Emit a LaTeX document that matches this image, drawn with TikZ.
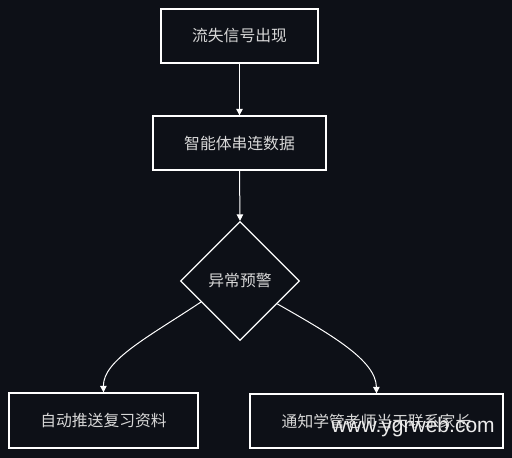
\documentclass[tikz,border=0pt]{standalone}
\usepackage{fontspec}
\newfontfamily\cjk{Noto Sans CJK SC}
\newfontfamily\wm{Liberation Sans}
\usetikzlibrary{shapes.geometric,arrows.meta,calc}
\definecolor{bg}{RGB}{13,16,23}
\definecolor{txt}{RGB}{215,215,215}
\tikzset{
  box/.style={draw=white, line width=1.3pt, fill=bg, text=txt, font=\cjk\fontsize{15.8}{18}\selectfont, inner sep=0pt},
  dia/.style={diamond, draw=white, line width=1.3pt, fill=bg, text=txt, font=\cjk\fontsize{15.8}{18}\selectfont, minimum width=119pt, minimum height=119pt, inner sep=0pt},
  conn/.style={draw=white, line width=1pt, -{Triangle[width=6.5pt,length=6.5pt]}},
}
\begin{document}
\begin{tikzpicture}[x=1pt,y=-1pt]
\fill[bg] (0,0) rectangle (512,458);
\useasboundingbox (0,0) rectangle (512,458);
\node[box, minimum width=157pt, minimum height=54pt] (a) at (239.5,36) {流失信号出现};
\node[box, minimum width=173pt, minimum height=54pt] (b) at (239.5,143) {智能体串连数据};
\node[dia] (d) at (240,281) {异常预警};
\node[box, minimum width=189pt, minimum height=55pt] (l) at (103.5,420.5) {自动推送复习资料};
\node[box, minimum width=253pt, minimum height=54pt] (r) at (376.5,421) {通知学管老师当天联系家长};
\coordinate (ls) at ($(d.west)!0.35!(d.south)$);
\coordinate (rs) at ($(d.east)!0.38!(d.south)$);
\draw[conn] (a) -- (b);
\draw[conn] (b.south) -- (d.north);
\draw[conn] (ls) .. controls (150,336) and (103,360) .. (l.north);
\draw[conn] (rs) .. controls (330,334) and (376,360) .. (r.north);
\node[text=white!85!gray, font=\wm\fontsize{21}{24}\selectfont, inner sep=0pt] (w) at (413,427) {www.ygrweb.com};
\end{tikzpicture}
\end{document}
